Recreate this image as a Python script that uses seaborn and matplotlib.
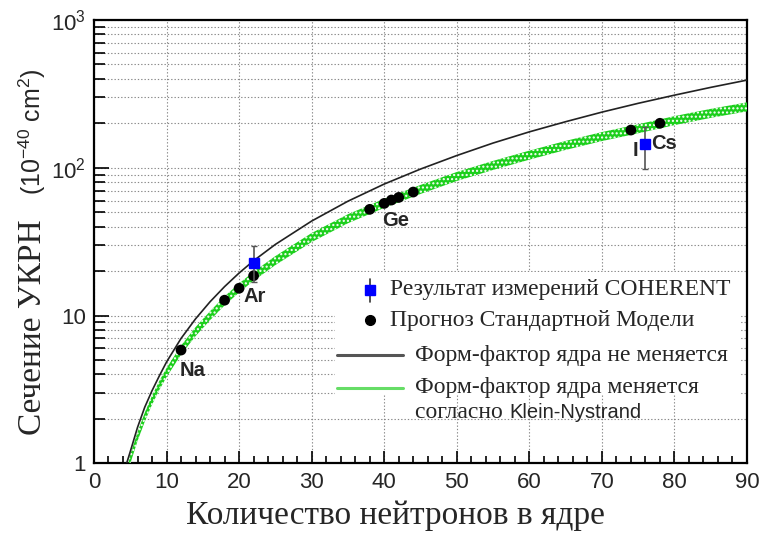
import matplotlib
matplotlib.use("Agg")
import matplotlib.pyplot as plt
import matplotlib.ticker as mticker
import pandas as pd
import seaborn as sns

# neutron number grid for the two theory curves
n_fixed = [4.5, 5, 6, 7, 8, 9, 10, 12, 14, 16, 18, 20, 22, 25, 30, 35, 40,
           45, 50, 55, 60, 65, 70, 75, 80, 85, 90]
sigma_fixed = [1.0, 1.2, 1.75, 2.4, 3.1, 3.9, 4.85, 7.0, 9.5, 12.4, 15.7, 19.4,
               23.5, 30.3, 43.6, 59.4, 77.6, 98, 121, 147, 175, 205, 238, 273,
               310, 350, 392]

n_kn = [4.8, 5, 6, 7, 8, 9, 10, 12, 14, 16, 18, 20, 22, 25, 30, 35, 40, 45,
        50, 55, 60, 65, 70, 75, 80, 85, 90]
sigma_kn = [1.0, 1.07, 1.52, 2.06, 2.68, 3.37, 4.12, 5.85, 7.8, 10.0, 12.6,
            15.4, 18.5, 23.6, 33.8, 45.3, 57.6, 71.5, 87.5, 104, 122, 142, 163,
            184, 209, 234, 259]
band_rel = 0.07  # half-width of the green band (relative)

# Standard Model predictions
sm_n = [12, 18, 20, 22, 38, 40, 41, 42, 44, 74, 78]
sm_sigma = [5.84, 12.7, 15.3, 18.6, 52.3, 57.4, 60.5, 63.0, 68.5, 180, 200]

# COHERENT measurements
coh_n = [22, 76]
coh_sigma = [22.6, 144]
coh_err_lo = [5.8, 46]
coh_err_hi = [7.1, 45]

# nucleus labels
nuclei = ["Na", "Ar", "Ge", "I", "Cs"]
nuc_n = [13.6, 22.1, 41.6, 74.6, 78.6]
nuc_sigma = [4.28, 13.4, 44.3, 131.8, 146]

sns.set_style("ticks")
plt.rcParams["font.family"] = ["Liberation Sans", "DejaVu Sans"]
plt.rcParams["mathtext.fontset"] = "custom"
plt.rcParams["mathtext.rm"] = "Liberation Sans"
plt.rcParams["mathtext.it"] = "Liberation Sans:italic"
plt.rcParams["hatch.linewidth"] = 1.0

serif = ["Liberation Serif", "DejaVu Serif"]
sans = ["Liberation Sans", "DejaVu Sans"]

fig = plt.figure(figsize=(7.61, 5.35), dpi=100)
ax = fig.add_axes([0.1235, 0.134, 0.8581, 0.8286])

# theory curves
kn = pd.DataFrame({"n": n_kn, "sigma": sigma_kn})
kn["lo"] = kn["sigma"] * (1 - band_rel)
kn["hi"] = kn["sigma"] * (1 + band_rel)
ax.fill_between(kn["n"], kn["lo"], kn["hi"], facecolor="#1ccf1c",
                edgecolor="white", hatch="....", linewidth=0, zorder=3)

fixed = pd.DataFrame({"n": n_fixed, "sigma": sigma_fixed})
sns.lineplot(data=fixed, x="n", y="sigma", color="#222222", lw=1.2, ax=ax,
             zorder=4)

# points
sm = pd.DataFrame({"n": sm_n, "sigma": sm_sigma})
sns.scatterplot(data=sm, x="n", y="sigma", color="black", s=60,
                edgecolor="none", ax=ax, zorder=6)

ax.errorbar(coh_n, coh_sigma, yerr=[coh_err_lo, coh_err_hi], fmt="s",
            color="#0000ff", ecolor="#555555", elinewidth=1.2, capsize=2.5,
            markersize=7, zorder=7)

for name, x, y in zip(nuclei, nuc_n, nuc_sigma):
    ax.text(x, y, name, fontsize=14.5, fontweight="bold", family=sans,
            ha="center", va="center", zorder=8)

# axes
ax.set_yscale("log")
ax.set_xlim(0, 90)
ax.set_ylim(1, 1000)
ax.set_xlabel("")
ax.set_ylabel("")
ax.xaxis.set_major_locator(mticker.MultipleLocator(10))
ax.xaxis.set_minor_locator(mticker.MultipleLocator(2))
ax.yaxis.set_major_locator(mticker.FixedLocator([1, 10, 100, 1000]))
ax.yaxis.set_major_formatter(mticker.FixedFormatter(
    ["1", "10", "$10^2$", "$10^3$"]))
ax.yaxis.set_minor_locator(mticker.LogLocator(base=10, subs=range(2, 10)))
ax.yaxis.set_minor_formatter(mticker.NullFormatter())
ax.tick_params(axis="both", which="both", direction="in", labelsize=16,
               color="black", width=1.2)
ax.tick_params(axis="x", which="major", length=9, pad=6)
ax.tick_params(axis="x", which="minor", length=5)
ax.tick_params(axis="y", which="major", length=11, pad=6)
ax.tick_params(axis="y", which="minor", length=8)
for sp in ax.spines.values():
    sp.set_linewidth(1.6)
    sp.set_color("black")
    sp.set_visible(True)

ax.grid(True, which="major", axis="x", color="#888888", lw=0.8,
        ls=(0, (1.2, 1.8)))
ax.grid(True, which="both", axis="y", color="#888888", lw=0.8,
        ls=(0, (1.2, 1.8)))
ax.set_axisbelow(True)

# legend, drawn by hand to follow the staggered layout of the original
T = ax.transAxes
ax.add_patch(plt.Rectangle((0.369, 0.154), 0.62, 0.278, transform=T,
                           facecolor="white", edgecolor="none", zorder=5))
ax.plot([0.423, 0.423], [0.365, 0.415], transform=T, color="#333333",
        lw=1.2, zorder=9)
ax.plot([0.423], [0.391], transform=T, marker="s", color="#0000ff",
        markersize=7, zorder=10)
ax.plot([0.423], [0.323], transform=T, marker="o", color="black",
        markersize=7, zorder=10)
ax.plot([0.372, 0.473], [0.244, 0.244], transform=T, color="#555555",
        lw=2.2, zorder=9)
ax.plot([0.372, 0.473], [0.170, 0.170], transform=T, color="#66dd66",
        lw=2.2, zorder=9)
leg_fs = 17
ax.text(0.453, 0.391, "Результат измерений COHERENT", transform=T,
        family=serif, fontsize=leg_fs, va="center", zorder=10)
ax.text(0.453, 0.323, "Прогноз Стандартной Модели", transform=T,
        family=serif, fontsize=leg_fs, va="center", zorder=10)
ax.text(0.492, 0.244, "Форм-фактор ядра не меняется", transform=T,
        family=serif, fontsize=leg_fs, va="center", zorder=10)
ax.text(0.492, 0.170, "Форм-фактор ядра меняется", transform=T,
        family=serif, fontsize=leg_fs, va="center", zorder=10)
t1 = ax.text(0.492, 0.114, "согласно ", transform=T, family=serif,
             fontsize=leg_fs, va="center", zorder=10)
fig.canvas.draw()
bb = t1.get_window_extent().transformed(T.inverted())
ax.text(bb.x1, 0.114, "Klein-Nystrand", transform=T, family=sans,
        fontsize=14.5, va="center", zorder=10)

# axis titles
fig.text(0.519, 0.036, "Количество нейтронов в ядре", family=serif,
         fontsize=24, ha="center", va="center")
fig.text(0.043, 0.389, "Сечение УКРН", family=serif, fontsize=24,
         rotation=90, ha="center", va="center")
fig.text(0.043, 0.753, "(10$^{-40}$ cm$^2$)", family=sans, fontsize=18,
         rotation=90, ha="center", va="center")

fig.savefig("out.png", dpi=100)
